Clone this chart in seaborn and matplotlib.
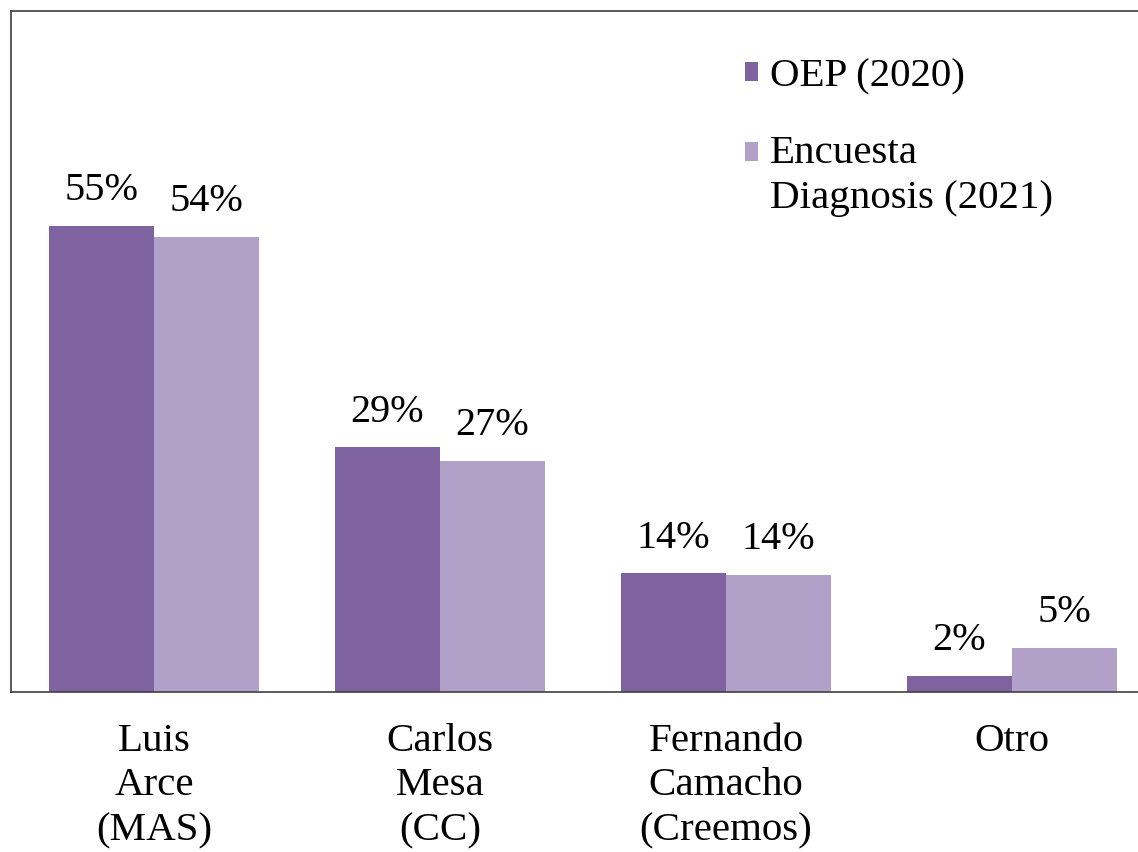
import numpy as np
import pandas as pd
import matplotlib
matplotlib.use("Agg")
import matplotlib.pyplot as plt
import seaborn as sns

# Data
categories = ["Luis\nArce\n(MAS)", "Carlos\nMesa\n(CC)", "Fernando\nCamacho\n(Creemos)", "Otro"]
series_names = ["OEP (2020)", "Encuesta\nDiagnosis (2021)"]
oep_2020 = [55.0, 28.9, 14.0, 1.9]
encuesta_2021 = [53.7, 27.3, 13.8, 5.2]
oep_labels = ["55%", "29%", "14%", "2%"]
encuesta_labels = ["54%", "27%", "14%", "5%"]
colors = ["#7F63A1", "#B1A0C7"]

df = pd.DataFrame({
    "Candidato": categories * 2,
    "Serie": [series_names[0]] * 4 + [series_names[1]] * 4,
    "Valor": oep_2020 + encuesta_2021,
})

sns.set_theme(style="white")
plt.rcParams["font.family"] = ["Liberation Serif", "DejaVu Serif"]
plt.rcParams["text.color"] = "black"

FS = 29.5

fig = plt.figure(figsize=(11.38, 8.52), dpi=100)
ax = fig.add_axes([11 / 1138, 160 / 852, 1144 / 1138, 681 / 852])

sns.barplot(data=df, x="Candidato", y="Valor", hue="Serie", palette=colors,
            width=0.734, saturation=1, ax=ax, linewidth=0)

ax.set_xlim(-0.5, 3.5)
ax.set_ylim(0, 80.4)
ax.set_yticks([])
ax.set_xlabel("")
ax.set_ylabel("")
ax.tick_params(axis="x", length=0, labelsize=FS, pad=22, colors="black")
for lbl in ax.get_xticklabels():
    lbl.set_linespacing(1.28)

for side in ["left", "top", "bottom"]:
    ax.spines[side].set_visible(True)
    ax.spines[side].set_color("#404040")
    ax.spines[side].set_linewidth(1.2)
ax.spines["right"].set_visible(False)

for container, labels in zip(ax.containers, [oep_labels, encuesta_labels]):
    for bar, lab in zip(container, labels):
        ax.annotate(lab, (bar.get_x() + bar.get_width() / 2, bar.get_height()),
                    xytext=(0, 18.5), textcoords="offset points",
                    ha="center", va="baseline", fontsize=29, color="black")

leg = ax.legend(loc="upper left", bbox_to_anchor=(0.627, 0.955), frameon=False,
                fontsize=FS, handlelength=0.32, handleheight=0.32,
                handletextpad=0.3, labelspacing=0.97, borderaxespad=0)
for t in leg.get_texts():
    t.set_color("black")
    t.set_linespacing(1.3)
# square marker sits next to the first line of a two-line entry
h = leg.legend_handles[1]
h.set_y(h.get_y() + 0.5 * 1.3 * FS * 0.9)

fig.savefig("out.png", dpi=100)
